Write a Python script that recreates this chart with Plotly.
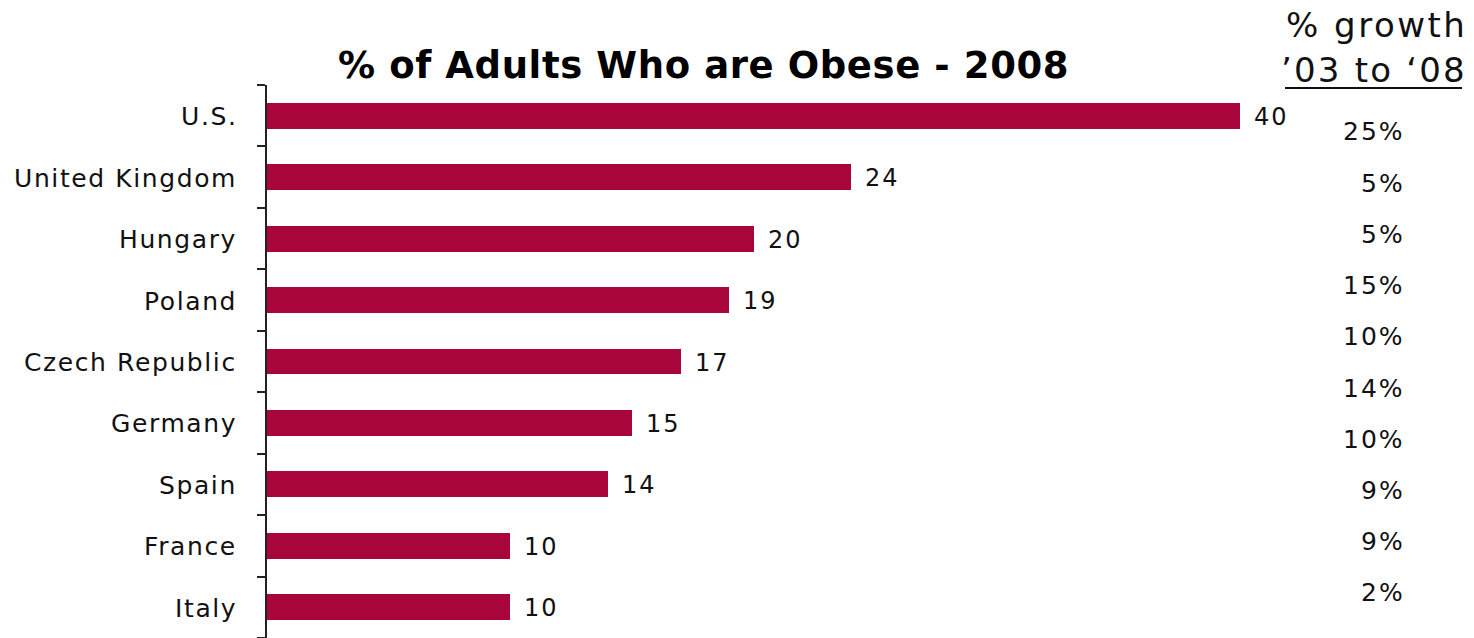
import plotly.graph_objects as go

# Obesity share of adults, 2008 (top to bottom)
countries = ["U.S.", "United Kingdom", "Hungary", "Poland", "Czech Republic",
             "Germany", "Spain", "France", "Italy"]
obese_pct = [40, 24, 20, 19, 17, 15, 14, 10, 10]

# Growth column, '03 to '08
growth_labels = ["25%", "5%", "5%", "15%", "10%", "14%", "10%", "9%", "9%", "2%"]

W, H = 1474, 638
ML, MT = 267, 85
plot_w, plot_h = W - ML, H - MT
px_per_unit = 24.33
x_max = plot_w / px_per_unit

FONT = "DejaVu Sans"
BAR_COLOR = "#A8063A"
TEXT_COLOR = "#111111"


def spaced(text, px):
    return f'<span style="letter-spacing:{px}px">{text}</span>'


def px_to_paper_x(px):
    return (px - ML) / plot_w


def px_to_paper_y(py):
    return (H - py) / plot_h


fig = go.Figure()
fig.add_trace(go.Bar(
    x=obese_pct,
    y=countries,
    orientation="h",
    width=0.42,
    marker=dict(color=BAR_COLOR, line=dict(width=0)),
    hoverinfo="skip",
))

annotations = []
# category names to the left of the axis
for c in countries:
    annotations.append(dict(
        x=0, y=c, xref="paper", yref="y", text=spaced(c, 1.6), showarrow=False,
        xanchor="right", yanchor="middle", xshift=-28, yshift=-1,
        font=dict(family=FONT, size=25, color=TEXT_COLOR),
    ))

# value labels at bar ends
for c, v in zip(countries, obese_pct):
    annotations.append(dict(
        x=v, y=c, xref="x", yref="y", text=spaced(v, 2), showarrow=False,
        xanchor="left", yanchor="middle", xshift=12, yshift=-1,
        font=dict(family=FONT, size=24, color=TEXT_COLOR),
    ))

# growth column
g_top, g_step = 132, 51.2
for i, g in enumerate(growth_labels):
    annotations.append(dict(
        x=px_to_paper_x(1407), y=px_to_paper_y(g_top + i * g_step),
        xref="paper", yref="paper", text=spaced(g, 2), showarrow=False,
        xanchor="right", yanchor="middle",
        font=dict(family=FONT, size=25, color=TEXT_COLOR),
    ))

# column header
annotations.append(dict(
    x=px_to_paper_x(1376), y=px_to_paper_y(25), xref="paper", yref="paper",
    text=spaced("% growth", 2.5), showarrow=False, xanchor="center", yanchor="middle",
    font=dict(family=FONT, size=34, color=TEXT_COLOR),
))
annotations.append(dict(
    x=px_to_paper_x(1374), y=px_to_paper_y(70), xref="paper", yref="paper",
    text=spaced("’03 to ‘08", 2.2), showarrow=False, xanchor="center", yanchor="middle",
    font=dict(family=FONT, size=34, color=TEXT_COLOR),
))

# chart title
annotations.append(dict(
    x=px_to_paper_x(703), y=px_to_paper_y(65), xref="paper", yref="paper",
    text="<b>" + spaced("% of Adults Who are Obese - 2008", 0.6) + "</b>",
    showarrow=False, xanchor="center", yanchor="middle",
    font=dict(family=FONT, size=37, color="#000000"),
))

shapes = [dict(
    type="line", xref="paper", yref="paper",
    x0=px_to_paper_x(1285), x1=px_to_paper_x(1462),
    y0=px_to_paper_y(88), y1=px_to_paper_y(88),
    line=dict(color=TEXT_COLOR, width=2),
)]

fig.update_layout(
    width=W, height=H,
    margin=dict(l=ML, r=0, t=MT, b=0, pad=0),
    paper_bgcolor="white", plot_bgcolor="white",
    showlegend=False,
    bargap=0,
    annotations=annotations,
    shapes=shapes,
    xaxis=dict(range=[0, x_max], visible=False, fixedrange=True),
    yaxis=dict(
        categoryorder="array", categoryarray=countries[::-1],
        showline=True, linecolor="#222222", linewidth=1.5,
        ticks="outside", ticklen=8, tickcolor="#222222", tickwidth=1.5,
        tickson="boundaries", showticklabels=False,
        showgrid=False, zeroline=False, fixedrange=True,
    ),
)

fig.write_html("out.html")
